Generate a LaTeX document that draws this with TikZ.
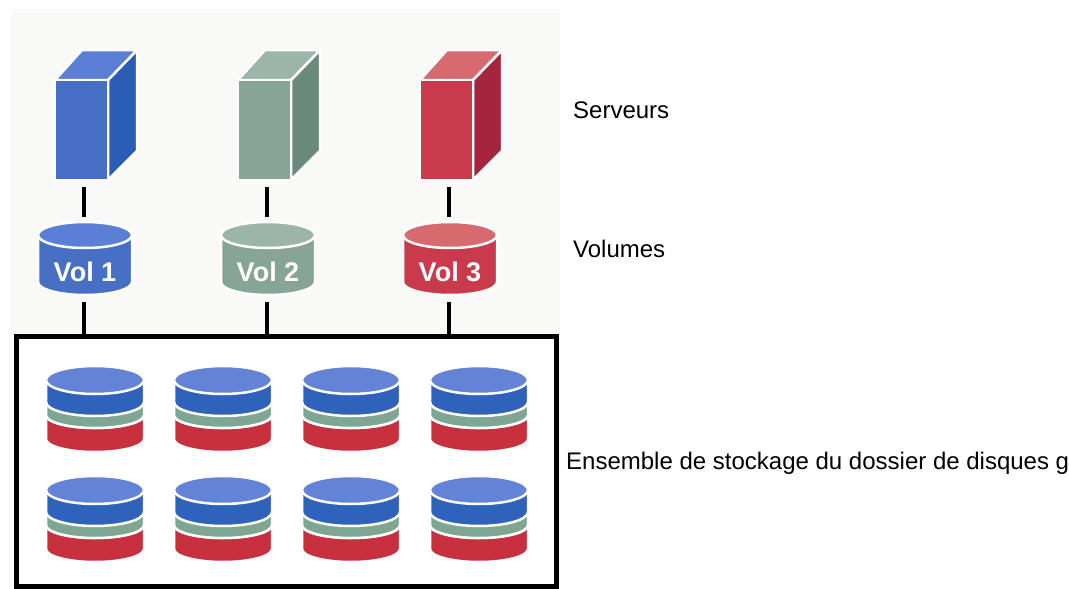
\documentclass[tikz,border=0pt]{standalone}
\usepackage{fontspec}
\setmainfont{Liberation Sans}

\definecolor{bluefront}{HTML}{4770C4}
\definecolor{blueside}{HTML}{2B5DB5}
\definecolor{bluetop}{HTML}{5B7FD4}
\definecolor{greenfront}{HTML}{86A597}
\definecolor{greenside}{HTML}{6B8A7E}
\definecolor{greentop}{HTML}{9BB5AA}
\definecolor{redfront}{HTML}{C93A4C}
\definecolor{redside}{HTML}{A3263E}
\definecolor{redtop}{HTML}{D66A6E}
\definecolor{diskblue}{HTML}{2F63BB}
\definecolor{disktop}{HTML}{6383D6}
\definecolor{diskgreen}{HTML}{7EA693}
\definecolor{diskred}{HTML}{C8303F}
\definecolor{paper}{HTML}{F9FAF8}

% cylinder: centre x, top y, bottom y, x radius, y radius, side colour, top colour
\newcommand{\drum}[7]{%
  \draw[rim,fill=#6] (#1-#4,#2) -- (#1-#4,#3)
    arc[start angle=180,end angle=0,x radius=#4,y radius=#5] -- (#1+#4,#2)
    arc[start angle=0,end angle=-180,x radius=#4,y radius=#5] -- cycle;
  \draw[rim,fill=#7] (#1,#2) ellipse[x radius=#4,y radius=#5];
}

% tower box: left x, front, side, top colours
\newcommand{\tower}[4]{%
  \draw[rim,fill=#3] (#1+53,80) -- (#1+82,50) -- (#1+82,151) -- (#1+53,180) -- cycle;
  \draw[rim,fill=#4] (#1,80) -- (#1+27,50) -- (#1+82,50) -- (#1+53,80) -- cycle;
  \draw[rim,fill=#2] (#1,80) rectangle (#1+53,180);
}

\tikzset{
  rim/.style={white,line width=2.5pt,line join=round},
  link/.style={black,line width=3.5pt},
  caption/.style={anchor=base west,inner sep=0pt,font=\fontsize{24}{28}\selectfont},
  vollabel/.style={white,font=\fontsize{27}{30}\selectfont\bfseries}
}

\begin{document}
\begin{tikzpicture}[x=1pt,y=-1pt]
        \useasboundingbox (0,0) rectangle (1069,589);
        \fill[paper] (11,9) rectangle (560,336);

        % servers and their volumes
        \foreach \c/\fr/\sd/\tp/\n in {84/bluefront/blueside/bluetop/1,
                                        267/greenfront/greenside/greentop/2,
                                        449/redfront/redside/redtop/3} {
                \tower{\c-29}{\fr}{\sd}{\tp}
                \drum{\c+1}{235}{282}{47}{13}{\fr}{\tp}
                \node[vollabel] (vol\n) at (\c+1,272) {Vol \n};
                \coordinate (srv\n) at (\c,187);
                \coordinate (vtop\n) at (\c,217);
                \coordinate (vbot\n) at (\c,302);
                \coordinate (pool\n) at (\c,336);
                \draw[link] (srv\n) -- (vtop\n);
                \draw[link] (vbot\n) -- (pool\n);
        }

        % disk pool
        \fill[white] (17,337) rectangle (556,585);
        \draw[black,line width=5pt] (16.5,336.5) rectangle (556.5,586);
        \foreach \x in {95,223,351,479} {
                \foreach \y in {380,490} {
                        \drum{\x}{\y+35}{\y+59}{49}{13}{diskred}{diskred}
                        \drum{\x}{\y+22}{\y+35}{49}{13}{diskgreen}{diskgreen}
                        \drum{\x}{\y}{\y+22}{49}{14}{diskblue}{disktop}
                }
        }

        \node[caption] (servers) at (573,118) {Serveurs};
        \node[caption] (volumes) at (573,257) {Volumes};
        \node[caption] (pool) at (566,469) {Ensemble de stockage du dossier de disques g};
\end{tikzpicture}
\end{document}
